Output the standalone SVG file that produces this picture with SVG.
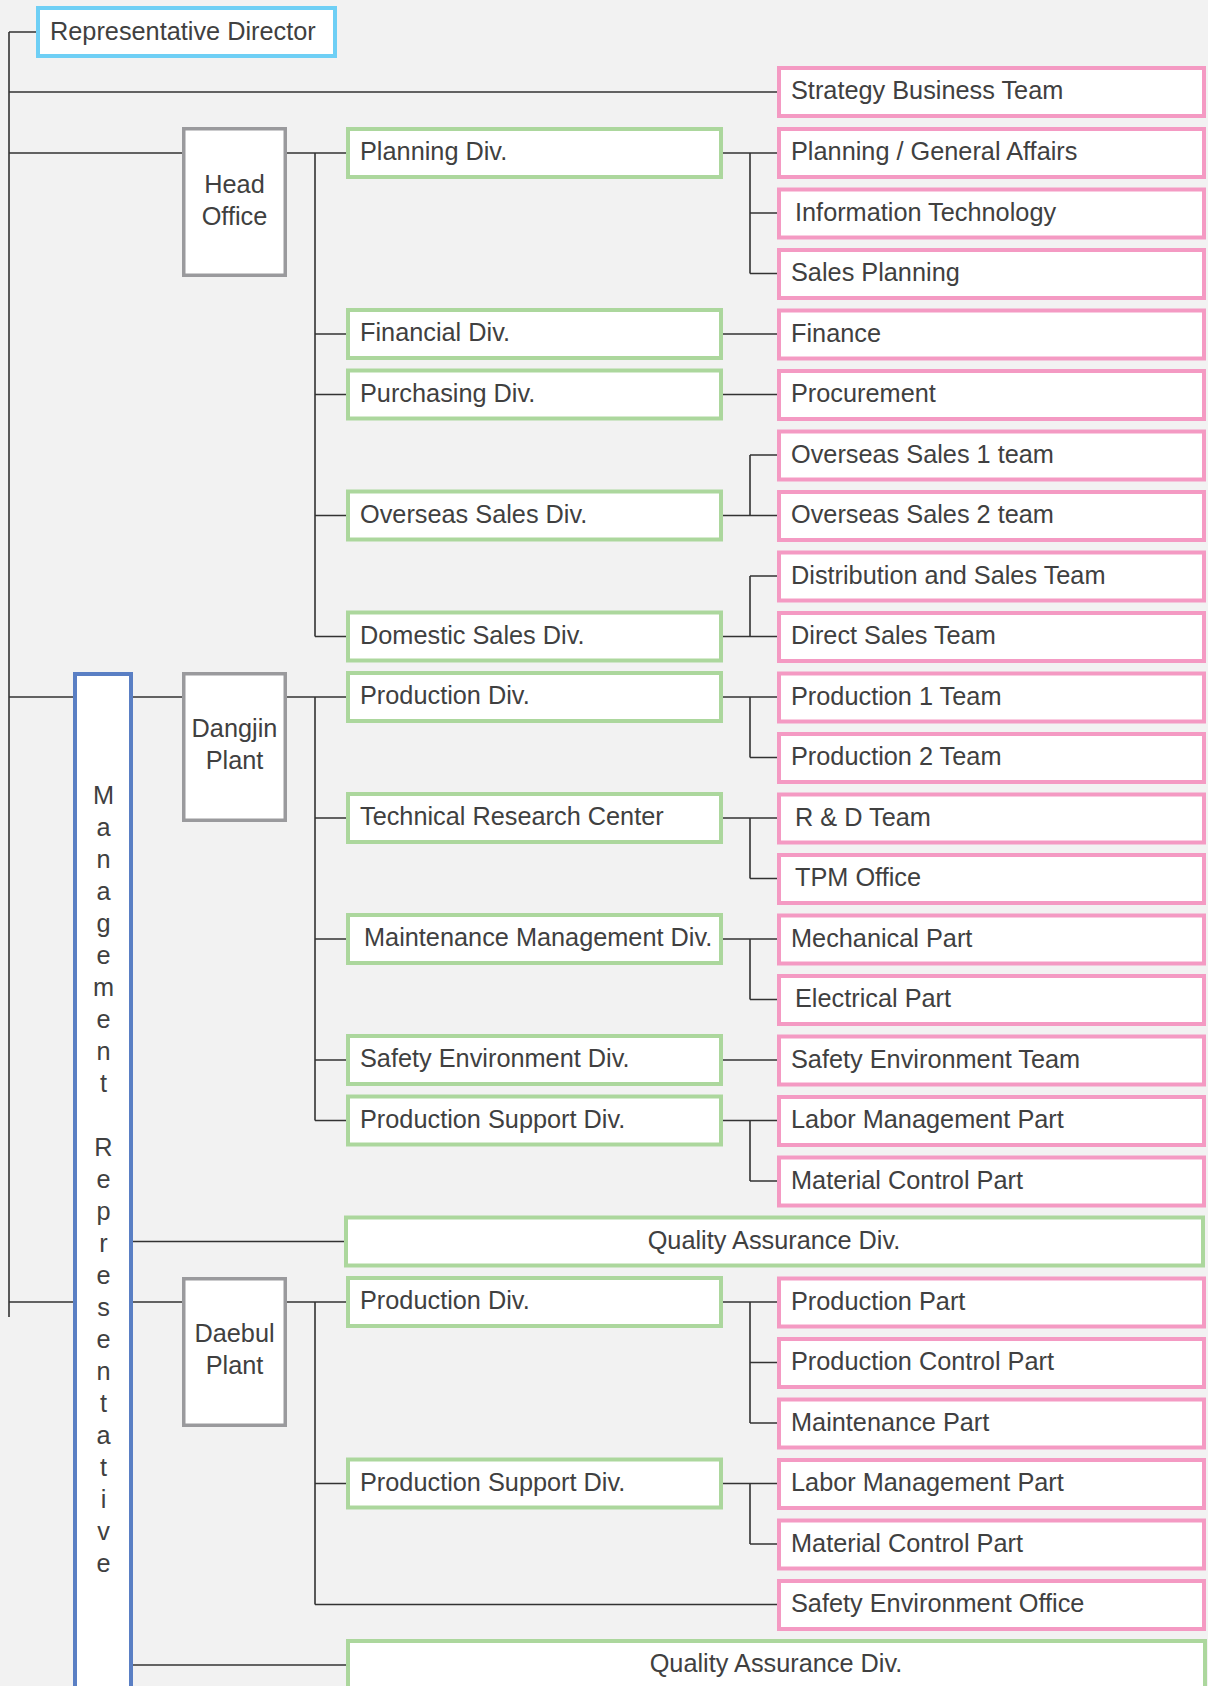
<svg xmlns="http://www.w3.org/2000/svg" width="1208" height="1686" viewBox="0 0 1208 1686">
<style>
text{font-family:"Liberation Sans",Arial,sans-serif;font-size:25.3px;fill:#404040}
.pk{fill:#fff;stroke:#f49ac3;stroke-width:4}
.gr{fill:#fff;stroke:#acd79d;stroke-width:4}
.gy{fill:#fff;stroke:#9a9a9d;stroke-width:3.5}
.c{fill:none;stroke:#333;stroke-width:1.6}
.m{text-anchor:middle}
</style>
<rect width="1208" height="1686" fill="#f2f2f2"/>
<g id="connectors" class="c">
<path d="M9 32V1317M9 32H36M9 92H777M9 153H182"/>
<path d="M287 153H346M315 153V636.5M315 334H346M315 394.5H346M315 515.5H346M315 636.5H346"/>
<path d="M723 153H777M750 153V273.5M750 213H777M750 273.5H777"/>
<path d="M723 334H777M723 394.5H777"/>
<path d="M723 515.5H777M750 455V515.5M750 455H777"/>
<path d="M723 636.5H777M750 576V636.5M750 576H777"/>
<path d="M9 697H73M133 697H182M287 697H346M315 697V1120.5M315 818H346M315 939H346M315 1060H346M315 1120.5H346"/>
<path d="M723 697H777M750 697V757.5M750 757.5H777"/>
<path d="M723 818H777M750 818V878.5M750 878.5H777"/>
<path d="M723 939H777M750 939V999.5M750 999.5H777"/>
<path d="M723 1060H777"/>
<path d="M723 1120.5H777M750 1120.5V1181M750 1181H777"/>
<path d="M133 1241.5H344"/>
<path d="M9 1302H73M133 1302H182M287 1302H346M315 1302V1604.5M315 1483.5H346M315 1604.5H777"/>
<path d="M723 1302H777M750 1302V1423M750 1362.5H777M750 1423H777"/>
<path d="M723 1483.5H777M750 1483.5V1544M750 1544H777"/>
<path d="M133 1665H346"/>
</g>
<g id="rep-director"><rect x="38" y="8" width="297" height="48" fill="#fff" stroke="#6ecff5" stroke-width="4"/><text x="50" y="39.5">Representative Director</text></g>
<g id="mgmt-rep"><rect x="75" y="674" width="56" height="1100" fill="#fff" stroke="#5a7fc4" stroke-width="4"/>
<text class="m"><tspan x="103.5" y="804">M</tspan><tspan x="103.5" y="836">a</tspan><tspan x="103.5" y="868">n</tspan><tspan x="103.5" y="900">a</tspan><tspan x="103.5" y="932">g</tspan><tspan x="103.5" y="964">e</tspan><tspan x="103.5" y="996">m</tspan><tspan x="103.5" y="1028">e</tspan><tspan x="103.5" y="1060">n</tspan><tspan x="103.5" y="1092">t</tspan><tspan x="103.5" y="1156">R</tspan><tspan x="103.5" y="1188">e</tspan><tspan x="103.5" y="1220">p</tspan><tspan x="103.5" y="1252">r</tspan><tspan x="103.5" y="1284">e</tspan><tspan x="103.5" y="1316">s</tspan><tspan x="103.5" y="1348">e</tspan><tspan x="103.5" y="1380">n</tspan><tspan x="103.5" y="1412">t</tspan><tspan x="103.5" y="1444">a</tspan><tspan x="103.5" y="1476">t</tspan><tspan x="103.5" y="1508">i</tspan><tspan x="103.5" y="1540">v</tspan><tspan x="103.5" y="1572">e</tspan></text></g>
<g id="head-office"><rect class="gy" x="183.75" y="128.75" width="101.5" height="146.5"/><text class="m" x="234.5" y="192.5">Head</text><text class="m" x="234.5" y="224.5">Office</text></g>
<g id="dangjin"><rect class="gy" x="183.75" y="673.75" width="101.5" height="146.5"/><text class="m" x="234.5" y="737">Dangjin</text><text class="m" x="234.5" y="769">Plant</text></g>
<g id="daebul"><rect class="gy" x="183.75" y="1278.75" width="101.5" height="146.5"/><text class="m" x="234.5" y="1342">Daebul</text><text class="m" x="234.5" y="1374">Plant</text></g>
<g id="div-planning"><rect class="gr" x="348" y="129" width="373" height="48"/><text x="360" y="160">Planning Div.</text></g>
<g id="div-financial"><rect class="gr" x="348" y="310" width="373" height="48"/><text x="360" y="341">Financial Div.</text></g>
<g id="div-purchasing"><rect class="gr" x="348" y="370.5" width="373" height="48"/><text x="360" y="401.5">Purchasing Div.</text></g>
<g id="div-overseas"><rect class="gr" x="348" y="491.5" width="373" height="48"/><text x="360" y="522.5">Overseas Sales Div.</text></g>
<g id="div-domestic"><rect class="gr" x="348" y="612.5" width="373" height="48"/><text x="360" y="643.5">Domestic Sales Div.</text></g>
<g id="div-production-dj"><rect class="gr" x="348" y="673" width="373" height="48"/><text x="360" y="704">Production Div.</text></g>
<g id="div-trc"><rect class="gr" x="348" y="794" width="373" height="48"/><text x="360" y="825">Technical Research Center</text></g>
<g id="div-maint"><rect class="gr" x="348" y="915" width="373" height="48"/><text x="364" y="946">Maintenance Management Div.</text></g>
<g id="div-safety"><rect class="gr" x="348" y="1036" width="373" height="48"/><text x="360" y="1067">Safety Environment Div.</text></g>
<g id="div-support-dj"><rect class="gr" x="348" y="1096.5" width="373" height="48"/><text x="360" y="1127.5">Production Support Div.</text></g>
<g id="div-qa-1"><rect class="gr" x="346" y="1217.5" width="857" height="48"/><text class="m" x="774" y="1248.5">Quality Assurance Div.</text></g>
<g id="div-production-db"><rect class="gr" x="348" y="1278" width="373" height="48"/><text x="360" y="1309">Production Div.</text></g>
<g id="div-support-db"><rect class="gr" x="348" y="1459.5" width="373" height="48"/><text x="360" y="1490.5">Production Support Div.</text></g>
<g id="div-qa-2"><rect class="gr" x="348" y="1641" width="857" height="60"/><text class="m" x="776" y="1672">Quality Assurance Div.</text></g>
<g id="t-strategy"><rect class="pk" x="779" y="68" width="425" height="48"/><text x="791" y="99">Strategy Business Team</text></g>
<g id="t-pga"><rect class="pk" x="779" y="129" width="425" height="48"/><text x="791" y="160">Planning / General Affairs</text></g>
<g id="t-it"><rect class="pk" x="779" y="189.5" width="425" height="48"/><text x="795" y="220.5">Information Technology</text></g>
<g id="t-sp"><rect class="pk" x="779" y="250" width="425" height="48"/><text x="791" y="281">Sales Planning</text></g>
<g id="t-finance"><rect class="pk" x="779" y="310.5" width="425" height="48"/><text x="791" y="341.5">Finance</text></g>
<g id="t-procure"><rect class="pk" x="779" y="371" width="425" height="48"/><text x="791" y="402">Procurement</text></g>
<g id="t-os1"><rect class="pk" x="779" y="431.5" width="425" height="48"/><text x="791" y="462.5">Overseas Sales 1 team</text></g>
<g id="t-os2"><rect class="pk" x="779" y="492" width="425" height="48"/><text x="791" y="523">Overseas Sales 2 team</text></g>
<g id="t-dist"><rect class="pk" x="779" y="552.5" width="425" height="48"/><text x="791" y="583.5">Distribution and Sales Team</text></g>
<g id="t-direct"><rect class="pk" x="779" y="613" width="425" height="48"/><text x="791" y="644">Direct Sales Team</text></g>
<g id="t-p1"><rect class="pk" x="779" y="673.5" width="425" height="48"/><text x="791" y="704.5">Production 1 Team</text></g>
<g id="t-p2"><rect class="pk" x="779" y="734" width="425" height="48"/><text x="791" y="765">Production 2 Team</text></g>
<g id="t-rd"><rect class="pk" x="779" y="794.5" width="425" height="48"/><text x="795" y="825.5">R &amp; D Team</text></g>
<g id="t-tpm"><rect class="pk" x="779" y="855" width="425" height="48"/><text x="795" y="886">TPM Office</text></g>
<g id="t-mech"><rect class="pk" x="779" y="915.5" width="425" height="48"/><text x="791" y="946.5">Mechanical Part</text></g>
<g id="t-elec"><rect class="pk" x="779" y="976" width="425" height="48"/><text x="795" y="1007">Electrical Part</text></g>
<g id="t-set"><rect class="pk" x="779" y="1036.5" width="425" height="48"/><text x="791" y="1067.5">Safety Environment Team</text></g>
<g id="t-lmp1"><rect class="pk" x="779" y="1097" width="425" height="48"/><text x="791" y="1128">Labor Management Part</text></g>
<g id="t-mcp1"><rect class="pk" x="779" y="1157.5" width="425" height="48"/><text x="791" y="1188.5">Material Control Part</text></g>
<g id="t-pp"><rect class="pk" x="779" y="1278.5" width="425" height="48"/><text x="791" y="1309.5">Production Part</text></g>
<g id="t-pcp"><rect class="pk" x="779" y="1339" width="425" height="48"/><text x="791" y="1370">Production Control Part</text></g>
<g id="t-mp"><rect class="pk" x="779" y="1399.5" width="425" height="48"/><text x="791" y="1430.5">Maintenance Part</text></g>
<g id="t-lmp2"><rect class="pk" x="779" y="1460" width="425" height="48"/><text x="791" y="1491">Labor Management Part</text></g>
<g id="t-mcp2"><rect class="pk" x="779" y="1520.5" width="425" height="48"/><text x="791" y="1551.5">Material Control Part</text></g>
<g id="t-seo"><rect class="pk" x="779" y="1581" width="425" height="48"/><text x="791" y="1612">Safety Environment Office</text></g>
</svg>
